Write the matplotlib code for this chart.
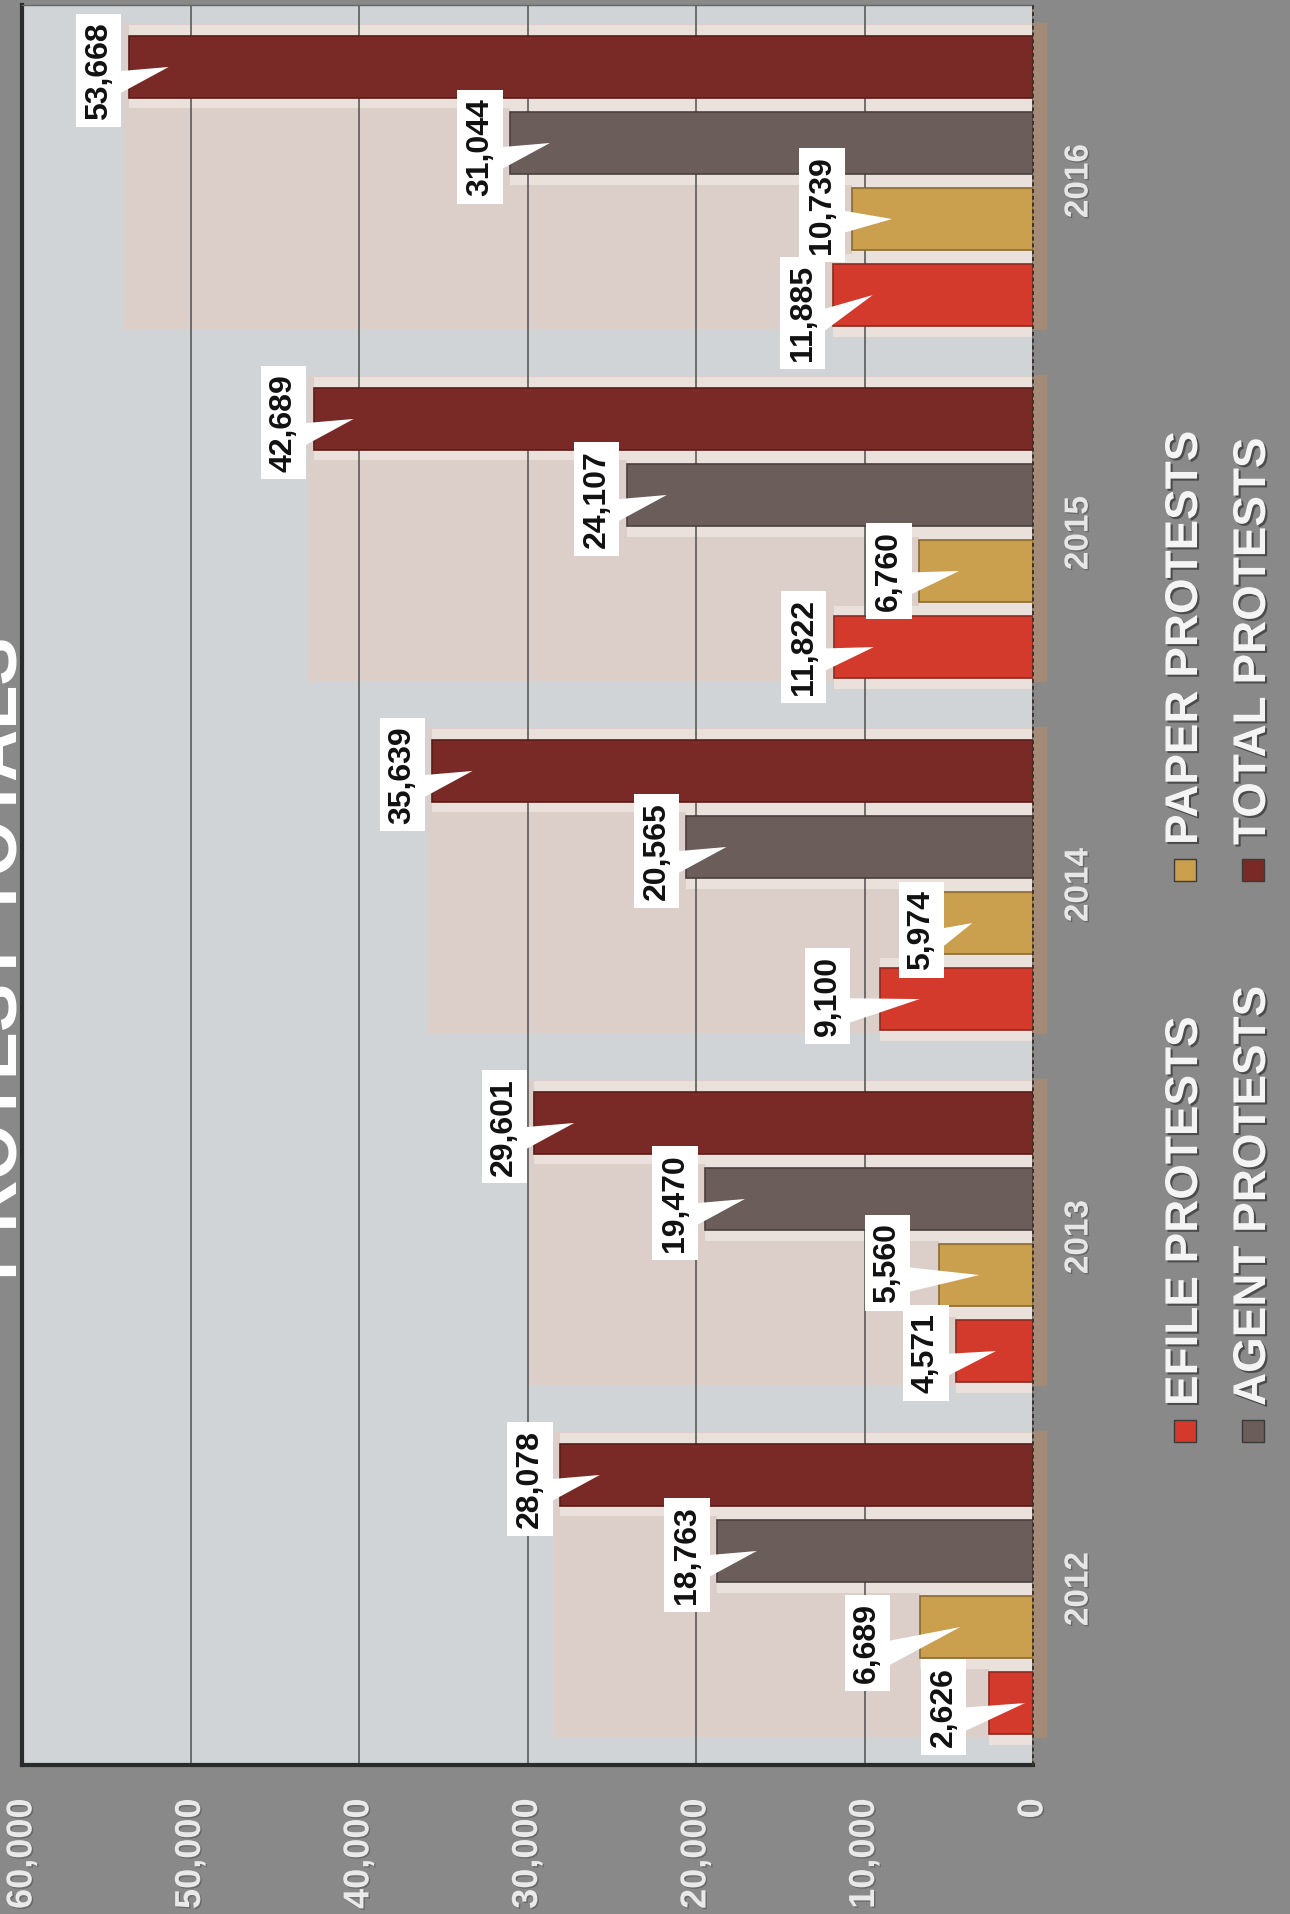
import numpy as np
import matplotlib.pyplot as plt
from matplotlib.patches import Rectangle, Polygon
import matplotlib.patheffects as pe

plt.rcParams['font.family'] = ['Liberation Sans', 'DejaVu Sans']

# data (chart is printed rotated a quarter turn on the page)
years = ['2012', '2013', '2014', '2015', '2016']
efile = [2626, 4571, 9100, 11822, 11885]
paper = [6689, 5560, 5974, 6760, 10739]
agent = [18763, 19470, 20565, 24107, 31044]
total = [28078, 29601, 35639, 42689, 53668]
series_names = ['EFILE PROTESTS', 'PAPER PROTESTS', 'AGENT PROTESTS', 'TOTAL PROTESTS']
value_ticks = [0, 10000, 20000, 30000, 40000, 50000, 60000]

# style
colors = ['#d43a2b', '#caa04e', '#6b5d5a', '#7a2a26']
edges = ['#8e2a20', '#8a6a30', '#4a3f3d', '#5a1c18']
offsets = [-0.324, -0.108, 0.108, 0.324]
bar_h = 0.176

W, H = 1290, 1914
fig = plt.figure(figsize=(W / 100, H / 100), dpi=100, facecolor='#898989')

# axes box in pixels
ax_l, ax_r, ax_t, ax_b = 22, 1033, 5, 1765
ax = fig.add_axes([ax_l / W, 1 - ax_b / H, (ax_r - ax_l) / W, (ax_b - ax_t) / H])
ax.set_facecolor('#d0d4d6')
ax.set_xlim(60000, 0)
ax.set_ylim(-0.5, 4.5)

VPX = 60000 / (ax_r - ax_l)   # value units per pixel
CPX = 5.0 / (ax_b - ax_t)     # category units per pixel

y = np.arange(len(years))
series = [efile, paper, agent, total]

# beige group boxes behind the bars
ax.barh(y + 0.015, [t + 350 for t in total], height=0.87, color='#dccfca', zorder=0.2)
# tan floor strip beyond the baseline
for yc in y:
    ax.add_patch(Rectangle((0, yc - 0.42), -13 * VPX, 0.87, color='#a38b78',
                           clip_on=False, zorder=1))
ax.axvline(0, color='#3d3228', lw=1.4, ls=(0, (2, 1.5)), zorder=3, clip_on=False)

for k, vals in enumerate(series):
    ax.barh(y + offsets[k], vals, height=bar_h + 0.06, color='#ebe1dc', zorder=0.3)
    ax.barh(y + offsets[k], vals, height=bar_h, color=colors[k],
            edgecolor=edges[k], lw=1.2, zorder=2)

# callout labels: (year index, series index) -> pixel nudge (right, down)
nudges = {(4, 1): (0, -14), (4, 0): (0, 18),
          (2, 0): (-22, -3), (2, 1): (19, 7),
          (1, 1): (-22, -12), (1, 0): (0, 2),
          (0, 1): (-23, 16), (0, 0): (-15, 4),
          (3, 0): (0, 0), (3, 1): (0, 0)}

for i in range(len(years)):
    for k, vals in enumerate(series):
        v = vals[i]
        yb = y[i] + offsets[k]
        dx, dy = nudges.get((i, k), (0, 4))
        bx = v + (30 - dx) * VPX
        by = yb - dy * CPX
        tip_px = min(40, v / VPX - 8)
        tx = v - tip_px * VPX
        ax.add_patch(Polygon([(bx, by - 2 * CPX), (bx, by - 34 * CPX), (tx, yb)],
                             closed=True, fc='white', ec='none', zorder=6))
        ax.text(bx, by, f'{v:,}', rotation=90, rotation_mode='anchor',
                ha='center', va='center', fontsize=23, fontweight='bold',
                color='#111111', zorder=7,
                bbox=dict(boxstyle='square,pad=0.24', fc='white', ec='none'))

# axes cosmetics
ax.set_xticks(value_ticks, [f'{t:,}' for t in value_ticks])
ax.tick_params(axis='x', length=0, pad=24, labelsize=26, labelcolor='#e9e9e9',
               labelrotation=90)
ax.grid(axis='x', color='#4f4f4f', lw=1.1)
ax.set_axisbelow(True)
ax.yaxis.tick_right()
ax.set_yticks(y, years)
ax.tick_params(axis='y', length=0, pad=22, labelsize=24, labelcolor='#e6e6e6')
for lbl in ax.get_yticklabels():
    lbl.set_rotation(90)
    lbl.set_va('center')
for lbl in ax.get_xticklabels() + ax.get_yticklabels():
    lbl.set_fontweight('bold')
    lbl.set_path_effects([pe.SimplePatchShadow(offset=(1, -1), shadow_rgbFace='#555555',
                                               alpha=0.6), pe.Normal()])

ax.spines['right'].set_visible(False)
ax.spines['top'].set_color('#666666')
ax.spines['top'].set_linewidth(1)
for s in ['left', 'bottom']:
    ax.spines[s].set_color('#2b2b2b')
    ax.spines[s].set_linewidth(3)

# title, cut by the page edge as in the scan
fig.text(17 / W, 1 - 958 / H, 'PROTEST TOTALS', rotation=90, rotation_mode='anchor',
         ha='center', va='baseline', fontsize=52, fontweight='bold', color='white')

# legend drawn by hand (rotated)
leg_pos = [(1185, 1406), (1185, 845), (1253, 1406), (1253, 845)]
for name, c, (lx, ly) in zip(series_names, colors, leg_pos):
    fig.add_artist(Rectangle(((lx - 11) / W, 1 - (ly + 36) / H), 22 / W, 22 / H,
                             transform=fig.transFigure, fc=c, ec='#3a3a3a', lw=1))
    fig.text(lx / W, 1 - ly / H, name, rotation=90, rotation_mode='anchor',
             ha='left', va='center', fontsize=33, fontweight='bold', color='#f4f4f4',
             path_effects=[pe.SimplePatchShadow(offset=(1.5, -1.5), shadow_rgbFace='#333333',
                                                alpha=0.7), pe.Normal()])

fig.savefig('out.png', dpi=100, facecolor=fig.get_facecolor())
